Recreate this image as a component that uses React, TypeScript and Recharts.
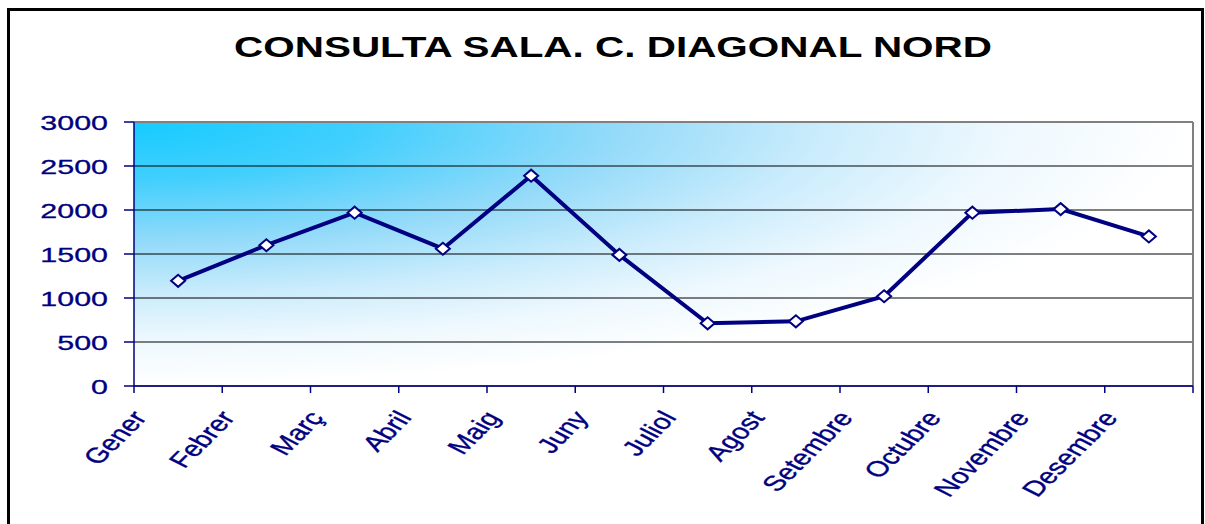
import React from 'react';
import { LineChart, Line, XAxis, YAxis, CartesianGrid, ReferenceLine } from 'recharts';

const TITLE = 'CONSULTA SALA. C. DIAGONAL NORD';
const MONTHS = ['Gener', 'Febrer', 'Març', 'Abril', 'Maig', 'Juny', 'Juliol', 'Agost', 'Setembre', 'Octubre', 'Novembre', 'Desembre'];
const VALUES = [1195, 1600, 1970, 1560, 2390, 1490, 712, 735, 1020, 1970, 2010, 1700];
const Y_TICKS = [0, 500, 1000, 1500, 2000, 2500, 3000];
const X_TICKS = [0, 1, 2, 3, 4, 5, 6, 7, 8, 9, 10, 11, 12];

const NAVY = '#000080';
const FONT = "'Liberation Sans', Arial, sans-serif";

const data = MONTHS.map((m, i) => ({ x: i + 0.5, month: m, value: VALUES[i] }));

const XTick = (props: any) => {
  const { x, y, payload } = props;
  const label = MONTHS[payload.value];
  if (!label) return null;
  return (
    <text
      transform={`translate(${x + 14},${y + 23}) scale(1.4,1) rotate(-54)`}
      textAnchor="end"
      fontSize={21.5}
      fontFamily={FONT}
      fill={NAVY}
      stroke={NAVY}
      strokeWidth={0.35}
    >
      {label}
    </text>
  );
};

const YTick = (props: any) => {
  const { x, y, payload } = props;
  return (
    <text
      transform={`translate(${x - 14},${y + 7.5}) scale(1.45,1)`}
      textAnchor="end"
      fontSize={21}
      fontFamily={FONT}
      fill={NAVY}
      stroke={NAVY}
      strokeWidth={0.3}
    >
      {payload.value}
    </text>
  );
};

const Diamond = (props: any) => {
  const { cx, cy } = props;
  if (cx == null || cy == null) return null;
  return (
    <polygon
      points={`${cx - 7},${cy} ${cx},${cy - 6} ${cx + 7},${cy} ${cx},${cy + 6}`}
      fill="#ffffff"
      stroke={NAVY}
      strokeWidth={2}
    />
  );
};

export default function App() {
  return (
    <div style={{ position: 'absolute', left: 0, top: 0, width: 1205, height: 524, background: '#ffffff', overflow: 'hidden' }}>
      <LineChart
        width={1205}
        height={524}
        data={data}
        margin={{ top: 122, right: 12, left: 74, bottom: 0 }}
      >
        <defs>
          <radialGradient id="bgGrad" cx="0" cy="0" r="1" fx="0" fy="0">
            <stop offset="0" stopColor="#16CBFF" />
            <stop offset="0.22" stopColor="#42CFFD" />
            <stop offset="0.45" stopColor="#92DAF9" />
            <stop offset="0.65" stopColor="#CAECFC" />
            <stop offset="0.82" stopColor="#EDF8FE" />
            <stop offset="1" stopColor="#FFFFFF" />
          </radialGradient>
        </defs>
        <CartesianGrid vertical={false} stroke="#000000" strokeWidth={1} fill="url(#bgGrad)" fillOpacity={1} />
        <XAxis
          type="number"
          dataKey="x"
          domain={[0, 12]}
          ticks={X_TICKS}
          interval={0}
          height={138}
          axisLine={{ stroke: NAVY, strokeWidth: 1.5 }}
          tickLine={{ stroke: NAVY, strokeWidth: 1.5 }}
          tickSize={7}
          tick={<XTick />}
        />
        <YAxis
          type="number"
          domain={[0, 3000]}
          ticks={Y_TICKS}
          interval={0}
          width={60}
          axisLine={{ stroke: NAVY, strokeWidth: 1.5 }}
          tickLine={{ stroke: NAVY, strokeWidth: 1.5 }}
          tickSize={10}
          tick={<YTick />}
        />
        <ReferenceLine y={3000} stroke="#808080" strokeWidth={2} />
        <ReferenceLine x={12} stroke="#808080" strokeWidth={2} />
        <Line
          type="linear"
          dataKey="value"
          stroke={NAVY}
          strokeWidth={4}
          dot={<Diamond />}
          activeDot={false}
          isAnimationActive={false}
        />
      </LineChart>
      <svg width={1205} height={524} style={{ position: 'absolute', left: 0, top: 0, pointerEvents: 'none' }}>
        <rect x={8.5} y={9.5} width={1194} height={530} fill="none" stroke="#000000" strokeWidth={3} />
        <text
          transform="translate(613,57) scale(1.395,1)"
          textAnchor="middle"
          fontSize={29}
          fontWeight="bold"
          fontFamily={FONT}
          fill="#000000"
        >
          {TITLE}
        </text>
      </svg>
    </div>
  );
}
